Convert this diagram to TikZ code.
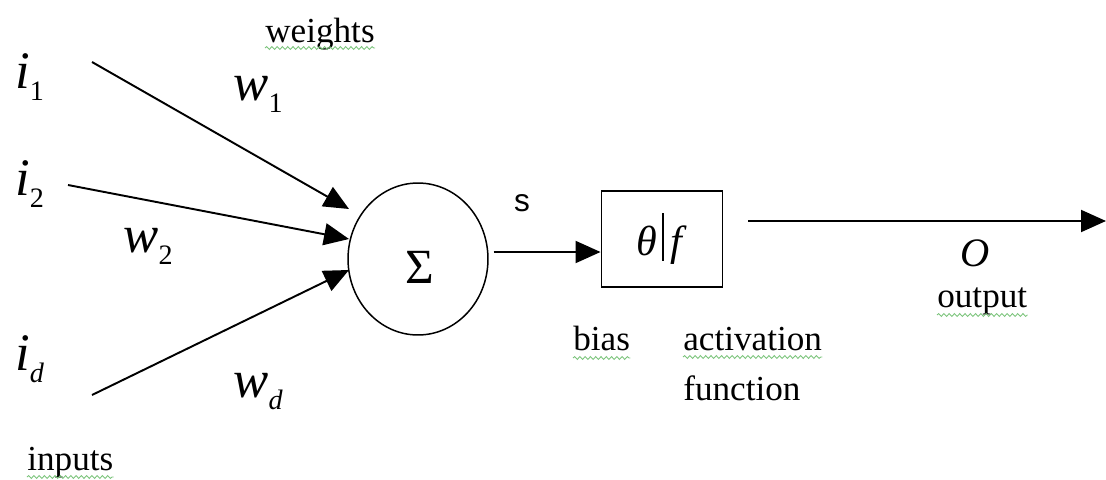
\documentclass[tikz,border=0pt]{standalone}
\usepackage{fontspec}
\setmainfont{Liberation Serif}
\setsansfont{Liberation Sans}
\usepackage{xcolor}
\usetikzlibrary{positioning, arrows.meta, calc, shapes.geometric, decorations.pathmorphing}
\definecolor{spellgreen}{HTML}{7CC47C}

\newcommand{\symlabel}[2]{{\fontsize{30}{30}\selectfont\itshape #1}\raisebox{-7pt}{\fontsize{16}{16}\selectfont #2}}

\tikzset{
  wire/.style={line width=1.1pt, -{Triangle[length=0.5cm, width=0.44cm]}},
  word/.style={font=\fontsize{20}{24}\selectfont, inner sep=0pt, anchor=base west},
  sym/.style={inner sep=0pt, anchor=base west},
  squiggle/.style={spellgreen, line width=0.5pt, decorate,
    decoration={snake, amplitude=0.8pt, segment length=3pt}}
}

\begin{document}
\begin{tikzpicture}[x=0.02cm, y=-0.02cm]
  \useasboundingbox (0,0) rectangle (1106,480);

  % inputs and weights
  \node[sym] (i1) at (15,88) {\symlabel{i}{1}};
  \node[sym] (i2) at (15,195) {\symlabel{i}{2}};
  \node[sym] (id) at (15,370) {\symlabel{i}{\itshape d}};
  \node[sym] (w1) at (233,100) {\symlabel{w}{1}};
  \node[sym] (w2) at (123,252) {\symlabel{w}{2}};
  \node[sym] (wd) at (233,397) {\symlabel{w}{\itshape d}};

  % summation and activation
  \node[draw, ellipse, line width=0.85pt, minimum width=2.8cm, minimum height=3.04cm] (sum) at (418,259) {};
  \node[font=\fontsize{28}{28}\selectfont] (sigma) at (420,267) {Σ};
  \node[draw, line width=1.1pt, minimum width=2.42cm, minimum height=1.92cm,
        font=\fontsize{24}{24}\selectfont] (box) at (662,239)
        {\textit{θ}\kern3pt\raisebox{-3pt}{\rule{0.8pt}{27pt}}\kern4pt\textit{f}};

  \coordinate (s1) at (92,62);  \coordinate (e1) at (349,209);
  \coordinate (s2) at (68,185); \coordinate (e2) at (349,239);
  \coordinate (s3) at (92,395); \coordinate (e3) at (349,270);
  \draw[wire] (s1) -- (e1);
  \draw[wire] (s2) -- (e2);
  \draw[wire] (s3) -- (e3);

  \coordinate (sout) at ($(sum.east)+(5,-7)$);
  \draw[wire] (sout) -- (sout -| box.west);
  \coordinate (oend) at (1106,221);
  \draw[wire] ($(box.east)+(25,-18)$) -- (oend);

  % labels
  \node[font=\sffamily\fontsize{18}{18}\selectfont, inner sep=0pt] (sl) at (522,203) {s};
  \node[font=\fontsize{23}{23}\selectfont\itshape, inner sep=0pt] (ol) at (975,253) {O};
  \node[word] (weights) at (265,42) {weights};
  \node[word] (inputs) at (27,470) {inputs};
  \node[word] (bias) at (573,350) {bias};
  \node[word] (act) at (683,350) {activation};
  \node[word] (fun) at (683,400) {function};
  \node[word] (output) at (937,307) {output};

  \draw[squiggle] ($(weights.base west)+(0,6)$) -- ($(weights.base east)+(0,6)$);
  \draw[squiggle] ($(inputs.base west)+(0,7)$) -- ($(inputs.base east)+(0,7)$);
  \draw[squiggle] ($(bias.base west)+(0,8)$) -- ($(bias.base east)+(0,8)$);
  \draw[squiggle] ($(act.base west)+(0,7)$) -- ($(act.base east)+(0,7)$);
  \draw[squiggle] ($(output.base west)+(0,8)$) -- ($(output.base east)+(0,8)$);
\end{tikzpicture}
\end{document}
